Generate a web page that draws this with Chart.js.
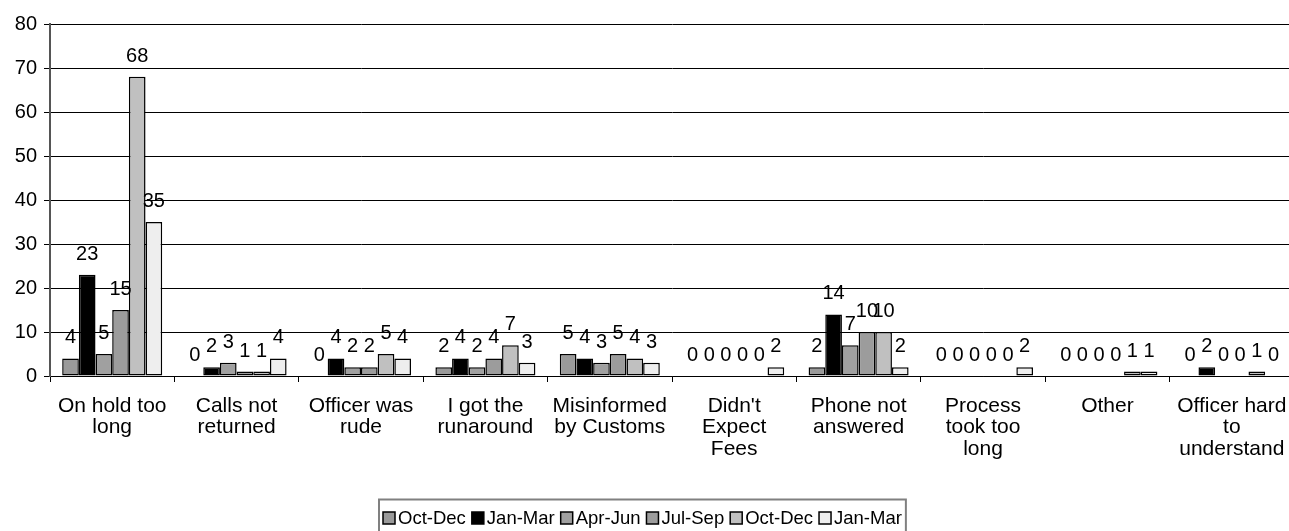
<!DOCTYPE html>
<html>
<head>
<meta charset="utf-8">
<script src="https://cdn.jsdelivr.net/npm/chart.js@4/dist/chart.umd.min.js"></script>
<style>
  html, body { margin: 0; padding: 0; background: #fff; overflow: hidden; width: 1289px; height: 531px; }
  canvas { display: block; }
</style>
</head>
<body>
<canvas id="c" width="1294" height="531"></canvas>
<script>
// Complaint categories (multi-line labels)
const categories = [
  ["On hold too", "long"],
  ["Calls not", "returned"],
  ["Officer was", "rude"],
  ["I got the", "runaround"],
  ["Misinformed", "by Customs"],
  ["Didn't", "Expect", "Fees"],
  ["Phone not", "answered"],
  ["Process", "took too", "long"],
  ["Other"],
  ["Officer hard", "to", "understand"]
];

// Quarterly complaint counts
const seriesNames = ["Oct-Dec", "Jan-Mar", "Apr-Jun", "Jul-Sep", "Oct-Dec", "Jan-Mar"];
const octDecA = [4, 0, 0, 2, 5, 0, 2, 0, 0, 0];
const janMarA = [23, 2, 4, 4, 4, 0, 14, 0, 0, 2];
const aprJun  = [5, 3, 2, 2, 3, 0, 7, 0, 0, 0];
const julSep  = [15, 1, 2, 4, 5, 0, 10, 0, 0, 0];
const octDecB = [68, 1, 5, 7, 4, 0, 10, 0, 1, 1];
const janMarB = [35, 4, 4, 3, 3, 2, 2, 2, 1, 0];

const yMin = 0, yMax = 80, yStep = 10;

const fills = ["#9a9a9a", "#000000", "#a0a0a0", "#9c9c9c", "#c0c0c0", "#eeeeee"];
const seriesData = [octDecA, janMarA, aprJun, julSep, octDecB, janMarB];

const FONT = '"Liberation Sans", Arial, sans-serif';

const datasets = seriesNames.map((name, i) => ({
  label: name,
  data: seriesData[i],
  backgroundColor: fills[i],
  borderColor: "#000",
  borderWidth: 1.5,
  borderSkipped: false,
  categoryPercentage: 0.804,
  barPercentage: 1.0
}));

// Value labels above each bar
const valueLabels = {
  id: "valueLabels",
  afterDatasetsDraw(chart) {
    const ctx = chart.ctx;
    ctx.save();
    ctx.font = "20px " + FONT;
    ctx.fillStyle = "#000";
    ctx.textAlign = "center";
    ctx.textBaseline = "alphabetic";
    chart.data.datasets.forEach((ds, i) => {
      chart.getDatasetMeta(i).data.forEach((bar, j) => {
        ctx.fillText(String(ds.data[j]), bar.x, bar.y - 15);
      });
    });
    ctx.restore();
  }
};

// Boxed legend along the bottom
const boxedLegend = {
  id: "boxedLegend",
  afterDraw(chart) {
    const ctx = chart.ctx;
    ctx.save();
    ctx.font = "18.5px " + FONT;
    const sq = 12, sqGap = 3, itemGap = 6, padX = 4;
    const widths = chart.data.datasets.map(ds => ctx.measureText(ds.label).width);
    let total = padX * 2;
    widths.forEach((w, i) => { total += sq + sqGap + w + (i < widths.length - 1 ? itemGap : 0); });
    const cx = 642;
    const left = Math.round(cx - total / 2);
    const top = 499.5;
    ctx.strokeStyle = "#808080";
    ctx.lineWidth = 2;
    ctx.strokeRect(left, top, total, 40);
    let x = left + padX;
    const cy = 518;
    ctx.textBaseline = "middle";
    ctx.textAlign = "left";
    chart.data.datasets.forEach((ds, i) => {
      ctx.fillStyle = ds.backgroundColor;
      ctx.fillRect(x, cy - sq / 2, sq, sq);
      ctx.strokeStyle = "#000";
      ctx.lineWidth = 1.5;
      ctx.strokeRect(x, cy - sq / 2, sq, sq);
      ctx.fillStyle = "#000";
      ctx.fillText(ds.label, x + sq + sqGap, cy + 1);
      x += sq + sqGap + widths[i] + itemGap;
    });
    ctx.restore();
  }
};

new Chart(document.getElementById("c"), {
  type: "bar",
  data: { labels: categories, datasets },
  options: {
    responsive: false,
    devicePixelRatio: 1,
    animation: false,
    layout: { padding: { top: 24, left: 0, right: 0, bottom: 0 } },
    plugins: { legend: { display: false }, tooltip: { enabled: false } },
    scales: {
      x: {
        grid: { offset: true, drawOnChartArea: false, color: "#000", tickLength: 6, lineWidth: 1 },
        border: { color: "#000", width: 1 },
        ticks: {
          color: "#000",
          font: { family: FONT, size: 21, lineHeight: 1.03 },
          maxRotation: 0, minRotation: 0, autoSkip: false, padding: 13
        },
        afterFit(s) { s.height = 155; s.paddingLeft = 0; s.paddingRight = 0; }
      },
      y: {
        min: yMin, max: yMax,
        grid: { color: "#000", tickLength: 6, lineWidth: 1 },
        border: { color: "#555", width: 2 },
        ticks: { stepSize: yStep, color: "#000", font: { family: FONT, size: 20 }, padding: 7 },
        afterFit(s) { s.width = 50; s.paddingTop = 0; s.paddingBottom = 0; }
      }
    }
  },
  plugins: [valueLabels, boxedLegend]
});
</script>
</body>
</html>
